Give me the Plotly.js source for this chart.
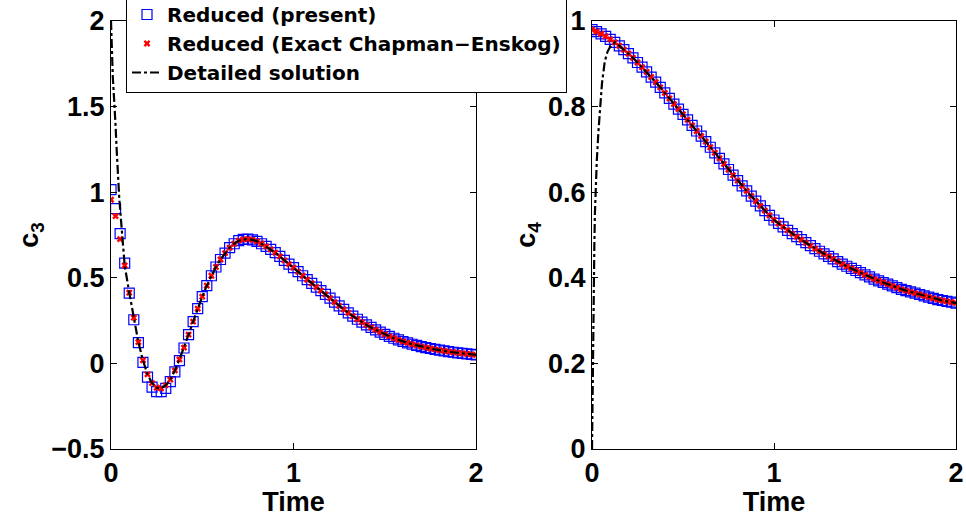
<!DOCTYPE html>
<html><head><meta charset="utf-8">
<script src="https://cdn.plot.ly/plotly-3.0.1.min.js"></script>
<style>html,body{margin:0;padding:0;background:#fff;overflow:hidden}#chart{width:966px;height:523px;margin-top:-6px}</style>
</head><body><div id="chart"></div>
<script>
// Sample times of the reduced solutions
const time = [0,0.025,0.05,0.075,0.1,0.125,0.15,0.175,0.2,0.225,0.25,0.275,0.3,0.325,0.35,0.375,0.4,0.425,0.45,0.475,
  0.5,0.525,0.55,0.575,0.6,0.625,0.65,0.675,0.7,0.725,0.75,0.775,0.8,0.825,0.85,0.875,0.9,0.925,0.95,0.975,
  1,1.025,1.05,1.075,1.1,1.125,1.15,1.175,1.2,1.225,1.25,1.275,1.3,1.325,1.35,1.375,1.4,1.425,1.45,1.475,
  1.5,1.525,1.55,1.575,1.6,1.625,1.65,1.675,1.7,1.725,1.75,1.775,1.8,1.825,1.85,1.875,1.9,1.925,1.95,1.975,2];

// c3 – Reduced (present)
const c3Present = [1.015,0.904,0.758,0.586,0.411,0.255,0.121,0.006,-0.080,-0.138,-0.165,-0.165,-0.146,-0.107,-0.050,0.016,0.090,0.168,0.244,0.320,
  0.390,0.454,0.512,0.563,0.607,0.644,0.676,0.699,0.717,0.724,0.726,0.722,0.713,0.699,0.683,0.666,0.647,0.625,0.602,0.580,
  0.559,0.536,0.512,0.489,0.467,0.446,0.425,0.403,0.381,0.358,0.336,0.315,0.295,0.276,0.258,0.241,0.225,0.210,0.196,0.183,
  0.170,0.158,0.147,0.137,0.128,0.120,0.112,0.105,0.098,0.092,0.087,0.082,0.077,0.073,0.069,0.065,0.062,0.059,0.056,0.053,0.050];
// c3 – Reduced (Exact Chapman–Enskog)
const c3CE = [0.956,0.860,0.726,0.572,0.413,0.267,0.124,0.018,-0.064,-0.115,-0.142,-0.146,-0.127,-0.095,-0.041,0.023,0.092,0.168,0.244,0.320,
  0.390,0.454,0.512,0.563,0.607,0.644,0.676,0.699,0.717,0.724,0.726,0.722,0.713,0.699,0.683,0.666,0.647,0.625,0.602,0.580,
  0.559,0.536,0.512,0.489,0.467,0.446,0.425,0.403,0.381,0.358,0.336,0.315,0.295,0.276,0.258,0.241,0.225,0.210,0.196,0.183,
  0.170,0.158,0.147,0.137,0.128,0.120,0.112,0.105,0.098,0.092,0.087,0.082,0.077,0.073,0.069,0.065,0.062,0.059,0.056,0.053,0.050];
// c3 – Detailed solution, initial fast transient (afterwards it follows the CE curve)
const c3DetTime = [0,0.0025,0.005,0.01,0.015,0.02,0.025,0.03,0.035,0.04,0.045,0.05,0.055,0.06,0.065,0.07];
const c3DetVal  = [2.0,1.90,1.80,1.67,1.58,1.50,1.39,1.27,1.15,1.05,0.97,0.90,0.84,0.78,0.71,0.64];

// c4 – Reduced (present)
const c4Present = [0.980,0.975,0.970,0.964,0.957,0.950,0.942,0.933,0.924,0.914,0.903,0.892,0.881,0.869,0.857,0.845,0.832,0.819,0.806,0.794,
  0.782,0.769,0.756,0.743,0.731,0.718,0.705,0.692,0.679,0.666,0.653,0.640,0.627,0.615,0.603,0.591,0.579,0.568,0.557,0.546,
  0.535,0.527,0.519,0.511,0.503,0.496,0.489,0.482,0.475,0.468,0.462,0.456,0.450,0.444,0.438,0.432,0.427,0.422,0.417,0.412,
  0.407,0.402,0.397,0.393,0.389,0.385,0.381,0.377,0.373,0.370,0.367,0.364,0.361,0.358,0.355,0.352,0.349,0.347,0.345,0.343,0.341];
// c4 – Reduced (Exact Chapman–Enskog)
const c4CE = [0.980,0.975,0.970,0.964,0.957,0.950,0.942,0.933,0.924,0.914,0.903,0.892,0.881,0.869,0.857,0.845,0.832,0.819,0.806,0.794,
  0.782,0.769,0.756,0.743,0.731,0.718,0.705,0.692,0.679,0.666,0.653,0.640,0.627,0.615,0.603,0.591,0.579,0.568,0.557,0.546,
  0.535,0.527,0.519,0.511,0.503,0.496,0.489,0.482,0.475,0.468,0.462,0.456,0.450,0.444,0.438,0.432,0.427,0.422,0.417,0.412,
  0.407,0.402,0.397,0.393,0.389,0.385,0.381,0.377,0.373,0.370,0.367,0.364,0.361,0.358,0.355,0.352,0.349,0.347,0.345,0.343,0.341];
// c4 – Detailed solution, initial fast transient
const c4DetTime = [0,0.002,0.004,0.006,0.008,0.01,0.013,0.016,0.02,0.026,0.035,0.044,0.055,0.07,0.085,0.1,0.11];
const c4DetVal  = [0,0.10,0.20,0.28,0.35,0.41,0.48,0.55,0.61,0.67,0.74,0.80,0.855,0.905,0.928,0.940,0.945];

const names = ['Reduced (present)','Reduced (Exact Chapman\u2212Enskog)','Detailed solution'];
const yTitles = ['c<sub>3</sub>','c<sub>4</sub>'];
const xTitle = 'Time';

// detailed curves: transient followed by the slow-manifold part
const c3DetX = c3DetTime.concat(time.slice(3));
const c3DetY = c3DetVal.concat(c3CE.slice(3));
const c4DetX = c4DetTime.concat(time.slice(5));
const c4DetY = c4DetVal.concat(c4CE.slice(5));

const FONT = 'Liberation Sans, Arial, Helvetica, sans-serif';
const LFONT = 'DejaVu Sans, Liberation Sans, Arial, sans-serif';
const sq = {symbol:'square-open', size:10, color:'#0000ff', line:{width:1.2, color:'#0000ff'}};
const cr = {symbol:'x', size:6, color:'#ff0000', line:{width:0}};
const ln = {color:'black', width:2.2, dash:'dashdot'};

const traces = [
  {x:time, y:c3Present, mode:'markers', marker:sq, name:names[0], xaxis:'x', yaxis:'y'},
  {x:time, y:c3CE, mode:'markers', marker:cr, name:names[1], xaxis:'x', yaxis:'y'},
  {x:c3DetX, y:c3DetY, mode:'lines', line:ln, name:names[2], xaxis:'x', yaxis:'y'},
  {x:time, y:c4Present, mode:'markers', marker:sq, name:names[0], showlegend:false, xaxis:'x2', yaxis:'y2'},
  {x:time, y:c4CE, mode:'markers', marker:cr, name:names[1], showlegend:false, xaxis:'x2', yaxis:'y2'},
  {x:c4DetX, y:c4DetY, mode:'lines', line:ln, name:names[2], showlegend:false, xaxis:'x2', yaxis:'y2'}
];

const tf = {family:FONT, size:27, color:'black', weight:'bold'};
function ax(extra){
  return Object.assign({showline:true, linecolor:'black', linewidth:1, mirror:'ticks', ticks:'inside', ticklen:6,
    tickcolor:'black', tickwidth:1, showgrid:false, zeroline:false, tickfont:tf}, extra);
}
// figure is 6 px taller than the window and shifted up by 6 px (legend box runs off the top edge)
const W=966, H=523, OFF=6;
const yDom = [(H-(449+OFF))/H, (H-(21+OFF))/H];
const layout = {
  width:W, height:H, margin:{l:0,r:0,t:0,b:0}, paper_bgcolor:'white', plot_bgcolor:'white',
  showlegend:true,
  font:{family:FONT, color:'black'},
  xaxis: ax({domain:[111/W,476/W], range:[0,2], dtick:1, tick0:0, anchor:'y', ticklabelstandoff:0,
    title:{text:xTitle, font:tf, standoff:2}}),
  yaxis: ax({domain:yDom, range:[-0.5,2], dtick:0.5, tick0:0, anchor:'x', ticklabelstandoff:0,
    title:{text:yTitles[0], font:tf, standoff:4}}),
  xaxis2: ax({domain:[592/W,956/W], range:[0,2], dtick:1, tick0:0, anchor:'y2', ticklabelstandoff:0,
    title:{text:xTitle, font:tf, standoff:2}}),
  yaxis2: ax({domain:yDom, range:[0,1], dtick:0.2, tick0:0, anchor:'x2', ticklabelstandoff:0,
    title:{text:yTitles[1], font:tf, standoff:4}}),
  legend:{x:126/W, y:1, xanchor:'left', yanchor:'top', bgcolor:'white', bordercolor:'black', borderwidth:1,
    font:{family:LFONT, size:20, color:'black', weight:'bold'}, tracegroupgap:0}
};
Plotly.newPlot('chart', traces, layout, {staticPlot:true});
</script>
</body></html>
